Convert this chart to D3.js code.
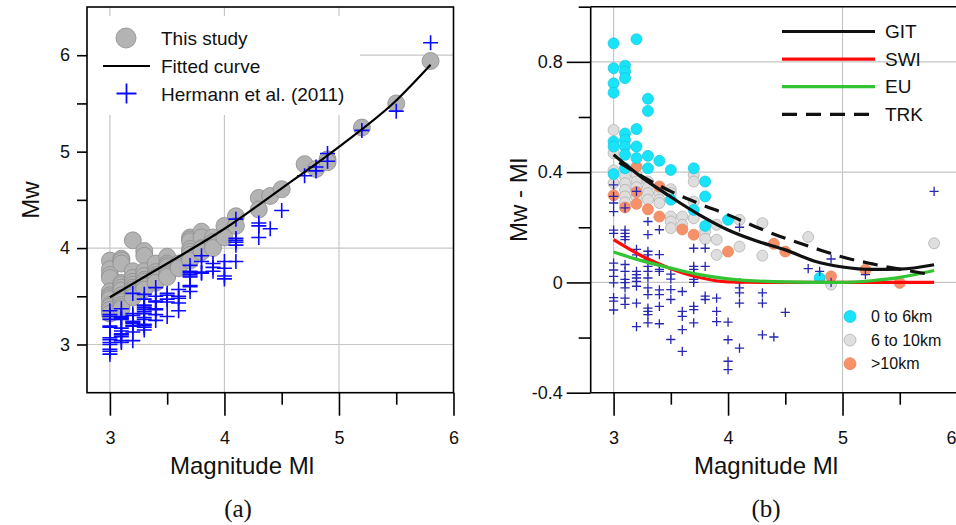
<!DOCTYPE html>
<html><head><meta charset="utf-8">
<script src="https://cdn.jsdelivr.net/npm/d3@7"></script>
<style>body{margin:0;background:#fff}svg{display:block;font-family:"Liberation Sans",Arial,sans-serif}</style>
</head><body><svg id="c" width="956" height="525"></svg>
<script>
// ---------- Panel (a) data: [Ml, Mw] ----------
const studyA = [
[3.0,3.87],[3.0,3.78],[3.0,3.72],[3.0,3.69],[3.0,3.55],[3.0,3.51],[3.0,3.49],[3.0,3.47],[3.0,3.41],[3.0,3.39],[3.0,3.36],[3.0,3.32],
[3.1,3.89],[3.1,3.87],[3.1,3.84],[3.1,3.64],[3.1,3.62],[3.1,3.59],[3.1,3.56],[3.1,3.51],[3.1,3.48],[3.1,3.46],[3.1,3.44],[3.1,3.41],[3.1,3.39],[3.1,3.37],
[3.2,4.08],[3.2,3.76],[3.2,3.69],[3.2,3.65],[3.2,3.62],[3.2,3.59],[3.2,3.57],[3.2,3.55],[3.2,3.53],[3.2,3.51],[3.2,3.49],
[3.3,3.97],[3.3,3.92],[3.3,3.76],[3.3,3.71],[3.3,3.67],[3.3,3.65],[3.3,3.62],[3.3,3.6],[3.3,3.57],
[3.4,3.84],[3.4,3.75],[3.4,3.72],[3.4,3.7],[3.4,3.69],[3.4,3.64],
[3.5,3.91],[3.5,3.84],[3.5,3.82],[3.5,3.8],[3.5,3.74],[3.5,3.72],[3.5,3.7],
[3.6,3.84],[3.6,3.81],[3.6,3.79],
[3.7,4.11],[3.7,4.09],[3.7,4.07],[3.7,3.99],[3.7,3.96],[3.7,3.93],[3.7,3.87],
[3.8,4.17],[3.8,4.11],[3.8,4.0],[3.8,3.99],[3.8,3.96],
[3.9,4.11],[3.9,4.06],[3.9,4.0],
[4.0,4.23],[4.0,4.11],[4.1,4.33],[4.1,4.23],[4.3,4.52],[4.3,4.4],[4.4,4.54],[4.5,4.61],
[4.7,4.87],[4.8,4.82],[4.9,4.92],[4.9,4.89],[5.2,5.25],[5.5,5.5],[5.8,5.94]
];
const hermannA = [
[3.0,3.35],[3.0,3.31],[3.0,3.29],[3.0,3.26],[3.0,3.19],[3.0,3.18],[3.0,3.07],[3.0,3.05],[3.0,3.02],[3.0,3.0],[3.0,2.95],[3.0,2.93],[3.0,2.9],
[3.1,3.37],[3.1,3.29],[3.1,3.28],[3.1,3.27],[3.1,3.26],[3.1,3.17],[3.1,3.14],[3.1,3.11],[3.1,3.1],[3.1,3.08],[3.1,3.04],[3.1,3.02],
[3.2,3.53],[3.2,3.32],[3.2,3.3],[3.2,3.24],[3.2,3.23],[3.2,3.22],[3.2,3.2],[3.2,3.19],[3.2,3.13],[3.2,3.04],
[3.3,3.52],[3.3,3.47],[3.3,3.41],[3.3,3.4],[3.3,3.38],[3.3,3.36],[3.3,3.34],[3.3,3.32],[3.3,3.28],[3.3,3.26],[3.3,3.21],[3.3,3.2],[3.3,3.18],[3.3,3.15],
[3.4,3.59],[3.4,3.5],[3.4,3.45],[3.4,3.44],[3.4,3.37],[3.4,3.36],[3.4,3.31],[3.4,3.25],
[3.5,3.53],[3.5,3.51],[3.5,3.47],[3.5,3.44],[3.5,3.29],
[3.6,3.57],[3.6,3.5],[3.6,3.48],[3.6,3.43],[3.6,3.35],
[3.7,3.82],[3.7,3.76],[3.7,3.75],[3.7,3.73],[3.7,3.71],[3.7,3.7],[3.7,3.61],[3.7,3.6],[3.7,3.55],
[3.8,3.92],[3.8,3.86],[3.8,3.75],[3.8,3.74],
[3.9,3.84],[3.9,3.8],[3.9,3.76],
[4.0,3.86],[4.0,3.79],[4.0,3.71],[4.0,3.68],
[4.1,4.3],[4.1,4.1],[4.1,4.08],[4.1,4.06],[4.1,4.03],[4.1,3.86],
[4.3,4.26],[4.3,4.23],[4.3,4.11],[4.4,4.2],[4.5,4.39],
[4.7,4.75],[4.8,4.84],[4.8,4.8],[4.9,4.98],[4.9,4.9],[5.2,5.22],[5.5,5.42],[5.8,6.13]
];
const fittedA = [[3,3.49],[3.5,3.84],[4,4.2],[4.5,4.62],[5,5.05],[5.5,5.53],[5.8,5.9]];

// ---------- Panel (b) data: [Ml, Mw - Ml] ----------
const shallowB = [
[3.0,0.867],[3.0,0.777],[3.0,0.722],[3.0,0.688],[3.0,0.511],[3.0,0.493],[3.0,0.393],
[3.1,0.786],[3.1,0.765],[3.1,0.741],[3.1,0.54],[3.1,0.517],[3.1,0.493],[3.1,0.463],[3.1,0.414],
[3.2,0.882],[3.2,0.556],[3.2,0.493],[3.2,0.451],
[3.3,0.666],[3.3,0.622],[3.3,0.459],[3.3,0.414],
[3.4,0.441],[3.5,0.408],[3.5,0.3],[3.7,0.414],[3.7,0.263],
[3.8,0.366],[3.8,0.312],[3.8,0.205],[4.0,0.227],[4.8,0.016]
];
const midB = [
[3.0,0.553],[3.0,0.469],[3.0,0.406],[3.0,0.36],
[3.1,0.384],[3.1,0.36],[3.1,0.336],[3.1,0.312],[3.1,0.29],
[3.2,0.39],[3.2,0.366],[3.2,0.345],[3.2,0.31],
[3.3,0.366],[3.3,0.345],[3.3,0.324],[3.3,0.3],
[3.4,0.324],[3.4,0.3],[3.4,0.288],
[3.5,0.338],[3.5,0.324],[3.5,0.239],[3.5,0.221],[3.5,0.197],
[3.6,0.239],[3.6,0.209],
[3.7,0.39],[3.7,0.366],[3.7,0.293],[3.7,0.233],
[3.8,0.185],[3.8,0.158],[3.9,0.209],[3.9,0.155],[3.9,0.1],
[4.1,0.227],[4.1,0.13],[4.3,0.215],[4.3,0.097],[4.7,0.165],[4.9,-0.008],[5.8,0.142]
];
const deepB = [
[3.0,0.316],[3.1,0.272],[3.2,0.42],[3.2,0.328],[3.2,0.285],[3.3,0.265],[3.4,0.348],[3.4,0.239],
[3.6,0.192],[3.7,0.173],[4.0,0.112],[4.4,0.14],[4.5,0.112],[4.9,0.022],[5.2,0.046],[5.5,-0.002]
];
const hermannB = [
[3.0,0.354],[3.0,0.312],[3.0,0.288],[3.0,0.257],[3.0,0.19],[3.0,0.178],[3.0,0.07],[3.0,0.045],[3.0,0.022],[3.0,-0.002],[3.0,-0.055],[3.0,-0.068],[3.0,-0.1],
[3.1,0.27],[3.1,0.19],[3.1,0.178],[3.1,0.166],[3.1,0.155],[3.1,0.065],[3.1,0.04],[3.1,0.011],[3.1,-0.001],[3.1,-0.02],[3.1,-0.057],[3.1,-0.08],
[3.2,0.33],[3.2,0.12],[3.2,0.1],[3.2,0.04],[3.2,0.028],[3.2,0.016],[3.2,0.004],[3.2,-0.014],[3.2,-0.075],[3.2,-0.16],
[3.3,0.221],[3.3,0.173],[3.3,0.113],[3.3,0.1],[3.3,0.082],[3.3,0.058],[3.3,0.04],[3.3,0.016],[3.3,-0.02],[3.3,-0.044],[3.3,-0.093],[3.3,-0.105],[3.3,-0.117],[3.3,-0.147],
[3.4,0.191],[3.4,0.101],[3.4,0.047],[3.4,0.04],[3.4,-0.027],[3.4,-0.044],[3.4,-0.087],[3.4,-0.15],
[3.5,0.03],[3.5,0.012],[3.5,-0.026],[3.5,-0.062],[3.5,-0.207],
[3.6,-0.033],[3.6,-0.105],[3.6,-0.123],[3.6,-0.171],[3.6,-0.25],
[3.7,0.124],[3.7,0.058],[3.7,0.047],[3.7,0.03],[3.7,0.011],[3.7,0.0],[3.7,-0.087],[3.7,-0.099],[3.7,-0.147],
[3.8,0.124],[3.8,0.058],[3.8,-0.05],[3.8,-0.062],
[3.9,-0.057],[3.9,-0.105],[3.9,-0.142],
[4.0,-0.144],[4.0,-0.208],[4.0,-0.286],[4.0,-0.316],
[4.1,0.2],[4.1,-0.002],[4.1,-0.02],[4.1,-0.038],[4.1,-0.075],[4.1,-0.238],
[4.3,-0.038],[4.3,-0.075],[4.3,-0.19],[4.4,-0.198],[4.5,-0.109],
[4.7,0.05],[4.8,0.04],[4.9,0.085],[4.9,0.0],[5.2,0.028],[5.8,0.33]
];
const gitB = [[3,0.463],[3.25,0.38],[3.5,0.31],[3.75,0.245],[4,0.19],[4.25,0.15],[4.5,0.118],[4.75,0.078],[5,0.056],[5.25,0.047],[5.5,0.048],[5.8,0.064]];
const swiB = [[3,0.155],[3.25,0.095],[3.5,0.05],[3.75,0.018],[4,0.002],[4.5,0],[5,0],[5.5,0],[5.8,0]];
const euB  = [[3,0.11],[3.25,0.078],[3.5,0.052],[3.75,0.028],[4,0.013],[4.5,0.002],[5,0.0],[5.25,0.006],[5.5,0.018],[5.8,0.043]];
const trkB = [[3.05,0.435],[3.25,0.385],[3.5,0.33],[3.75,0.285],[4,0.245],[4.25,0.2],[4.5,0.16],[4.75,0.125],[5,0.092],[5.25,0.068],[5.5,0.048],[5.75,0.03]];

// ---------- ticks / labels ----------
const xMajor = [3,4,5,6];
const xMinor = [3.5,4.5,5.5];
const xTickLabels = ["3","4","5","6"];
const yMajorA = [3,4,5,6];
const yMinorA = [3.5,4.5,5.5];
const yTickLabelsA = ["3","4","5","6"];
const yMajorB = [-0.4,0,0.4,0.8];
const yMinorB = [-0.2,0.2,0.6,1.0];
const yTickLabelsB = ["-0.4","0","0.4","0.8"];
const gridXA = [3,4,5], gridYA = [3,4,6];
const gridXB = [3,5], gridYB = [0,0.4,0.8];
const legendA = ["This study","Fitted curve","Hermann et al. (2011)"];
const legendLinesB = ["GIT","SWI","EU","TRK"];
const legendDepthB = ["0 to 6km","6 to 10km",">10km"];

const FONT = "'Liberation Sans', Arial, sans-serif";
const svg = d3.select("#c");
const xA = d3.scaleLinear().domain([2.8,6]).range([87,453.5]);
const yA = d3.scaleLinear().domain([2.5,6.5]).range([392.7,7]);
const xB = d3.scaleLinear().domain([2.8,6]).range([590.7,957]);
const yB = d3.scaleLinear().domain([-0.4,1.0]).range([392.7,6.7]);

const GRID = "#c6c6c6";
function grid(g, x, y, gx, gy) {
  g.selectAll(null).data(gx).join("line")
    .attr("x1", d => x(d)).attr("x2", d => x(d)).attr("y1", y.range()[0]).attr("y2", y.range()[1])
    .attr("stroke", GRID).attr("stroke-width", 1.2);
  g.selectAll(null).data(gy).join("line")
    .attr("x1", x.range()[0]).attr("x2", x.range()[1]).attr("y1", d => y(d)).attr("y2", d => y(d))
    .attr("stroke", GRID).attr("stroke-width", 1.2);
}
const plus = s => `M${-s},0H${s}M0,${-s}V${s}`;

// ================= Panel (a) =================
const gA = svg.append("g");
grid(gA, xA, yA, gridXA, gridYA);
gA.selectAll(null).data(studyA).join("circle")
  .attr("cx", d => xA(d[0])).attr("cy", d => yA(d[1])).attr("r", 8.5)
  .attr("fill", "#b3b3b3").attr("stroke", "#8d8d8d").attr("stroke-width", 0.8);
gA.selectAll(null).data(hermannA).join("path")
  .attr("transform", d => `translate(${xA(d[0])},${yA(d[1])})`).attr("d", plus(7.5))
  .attr("stroke", "#0a0aff").attr("stroke-width", 1.6).attr("fill", "none");
gA.append("path").datum(fittedA)
  .attr("d", d3.line().x(d => xA(d[0])).y(d => yA(d[1])).curve(d3.curveMonotoneX))
  .attr("fill", "none").attr("stroke", "#000").attr("stroke-width", 2.2);
// legend (white box)
gA.append("rect").attr("x", 88).attr("y", 16).attr("width", 272).attr("height", 99).attr("fill", "#fff");
gA.append("circle").attr("cx", 126).attr("cy", 38).attr("r", 10).attr("fill", "#b3b3b3").attr("stroke", "#8d8d8d").attr("stroke-width", 0.8);
gA.append("line").attr("x1", 103).attr("x2", 150).attr("y1", 66).attr("y2", 66).attr("stroke", "#000").attr("stroke-width", 2.2);
gA.append("path").attr("transform", "translate(126.5,93.5)").attr("d", plus(10)).attr("stroke", "#0a0aff").attr("stroke-width", 1.8);
gA.selectAll(null).data(legendA).join("text")
  .attr("x", 161).attr("y", (d, i) => 38 + i * 28).attr("dy", "0.35em")
  .attr("font-size", 19).attr("font-family", FONT).attr("fill", "#111").text(d => d);

function axes(g, x, y, xMaj, xMin, xLab, yMaj, yMin, yLab, yMajLen, yMinLen, yPad) {
  const y0 = y.range()[0];
  const x0 = x.range()[0];
  const bMin = g.append("g").attr("transform", `translate(0,${y0})`)
    .call(d3.axisBottom(x).tickValues(xMin).tickSize(12).tickFormat(""));
  const bMaj = g.append("g").attr("transform", `translate(0,${y0})`)
    .call(d3.axisBottom(x).tickValues(xMaj).tickSize(23).tickPadding(16).tickFormat((d, i) => xLab[i]));
  const lMin = g.append("g").attr("transform", `translate(${x0},0)`)
    .call(d3.axisLeft(y).tickValues(yMin).tickSize(yMinLen).tickFormat(""));
  const lMaj = g.append("g").attr("transform", `translate(${x0},0)`)
    .call(d3.axisLeft(y).tickValues(yMaj).tickSize(yMajLen).tickPadding(yPad).tickFormat((d, i) => yLab[i]));
  [bMin, bMaj, lMin, lMaj].forEach(a => {
    a.select(".domain").remove();
    a.selectAll("line").attr("stroke", "#000").attr("stroke-width", 1.6);
    a.selectAll("text").attr("font-size", 18).attr("fill", "#111").attr("font-family", FONT);
  });
  // keep a tick label that falls on the page edge fully visible
  bMaj.selectAll(".tick text").each(function(d) {
    if (x(d) > 950) d3.select(this).attr("text-anchor", "end").attr("x", 956 - x(d));
  });
}
axes(gA, xA, yA, xMajor, xMinor, xTickLabels, yMajorA, yMinorA, yTickLabelsA, 10, 10, 7);
gA.append("rect").attr("x", 87).attr("y", 7).attr("width", 453.5 - 87).attr("height", 392.7 - 7)
  .attr("fill", "none").attr("stroke", "#000").attr("stroke-width", 1.6);
gA.append("text").attr("transform", "translate(31,200) rotate(-90)").attr("text-anchor", "middle")
  .attr("dy", "0.35em").attr("font-size", 24).attr("font-family", FONT).attr("fill", "#111").text("Mw");
gA.append("text").attr("x", 242).attr("y", 466).attr("text-anchor", "middle").attr("dy", "0.35em")
  .attr("font-size", 24).attr("font-family", FONT).attr("fill", "#111").text("Magnitude Ml");
gA.append("text").attr("x", 238).attr("y", 508).attr("text-anchor", "middle").attr("dy", "0.35em")
  .attr("font-size", 25).attr("font-family", "'Liberation Serif', 'Times New Roman', serif").attr("fill", "#111").text("(a)");

// ================= Panel (b) =================
const gB = svg.append("g");
grid(gB, xB, yB, gridXB, gridYB);
const dot = (data, fill, stroke) => gB.selectAll(null).data(data).join("circle")
  .attr("cx", d => xB(d[0])).attr("cy", d => yB(d[1])).attr("r", 5.5)
  .attr("fill", fill).attr("stroke", stroke).attr("stroke-width", 0.7);
dot(midB, "#dedede", "#ababab");
dot(deepB, "#f6916a", "#e58059");
dot(shallowB, "#18e3f8", "#10c6dc");
gB.selectAll(null).data(hermannB).join("path")
  .attr("transform", d => `translate(${xB(d[0])},${yB(d[1])})`).attr("d", plus(4.6))
  .attr("stroke", "#2727b0").attr("stroke-width", 1.3).attr("fill", "none");
const lineB = d3.line().x(d => xB(d[0])).y(d => yB(d[1])).curve(d3.curveMonotoneX);
const curvesB = [
  {data: swiB, color: "#ff0a0a", dash: null},
  {data: euB, color: "#33c433", dash: null},
  {data: trkB, color: "#111", dash: "15,9"},
  {data: gitB, color: "#111", dash: null}
];
curvesB.forEach(c => gB.append("path").datum(c.data).attr("d", lineB)
  .attr("fill", "none").attr("stroke", c.color).attr("stroke-width", 3.2)
  .attr("stroke-dasharray", c.dash));
// legends
const legCols = ["#111", "#ff0a0a", "#33c433", "#111"];
const legDash = [null, null, null, "15,9"];
legendLinesB.forEach((t, i) => {
  const yy = 31.5 + i * 27.6;
  gB.append("line").attr("x1", 782).attr("x2", 875).attr("y1", yy).attr("y2", yy)
    .attr("stroke", legCols[i]).attr("stroke-width", 3.2).attr("stroke-dasharray", legDash[i]);
  gB.append("text").attr("x", 885).attr("y", yy).attr("dy", "0.35em").attr("font-size", 19)
    .attr("font-family", FONT).attr("fill", "#111").text(t);
});
const depthFill = ["#18e3f8", "#dedede", "#f6916a"], depthStroke = ["#10c6dc", "#ababab", "#e58059"];
legendDepthB.forEach((t, i) => {
  const yy = 316.5 + i * 23.6;
  gB.append("circle").attr("cx", 850).attr("cy", yy).attr("r", 6).attr("fill", depthFill[i]).attr("stroke", depthStroke[i]).attr("stroke-width", 0.7);
  gB.append("text").attr("x", 871).attr("y", yy).attr("dy", "0.35em").attr("font-size", 16)
    .attr("font-family", FONT).attr("fill", "#111").text(t);
});
axes(gB, xB, yB, xMajor, xMinor, xTickLabels, yMajorB, yMinorB, yTickLabelsB, 24, 12, 4);
gB.append("line").attr("x1", 590.7).attr("x2", 590.7).attr("y1", 6.7).attr("y2", 392.7).attr("stroke", "#000").attr("stroke-width", 1.6);
gB.append("line").attr("x1", 590.7).attr("x2", 956).attr("y1", 6.7).attr("y2", 6.7).attr("stroke", "#000").attr("stroke-width", 1.6);
gB.append("line").attr("x1", 590.7).attr("x2", 956).attr("y1", 392.7).attr("y2", 392.7).attr("stroke", "#000").attr("stroke-width", 1.6);
gB.append("text").attr("transform", "translate(519,200) rotate(-90)").attr("text-anchor", "middle")
  .attr("dy", "0.35em").attr("font-size", 24).attr("font-family", FONT).attr("fill", "#111").text("Mw - Ml");
gB.append("text").attr("x", 766).attr("y", 466).attr("text-anchor", "middle").attr("dy", "0.35em")
  .attr("font-size", 24).attr("font-family", FONT).attr("fill", "#111").text("Magnitude Ml");
gB.append("text").attr("x", 766).attr("y", 508).attr("text-anchor", "middle").attr("dy", "0.35em")
  .attr("font-size", 25).attr("font-family", "'Liberation Serif', 'Times New Roman', serif").attr("fill", "#111").text("(b)");
</script></body></html>
